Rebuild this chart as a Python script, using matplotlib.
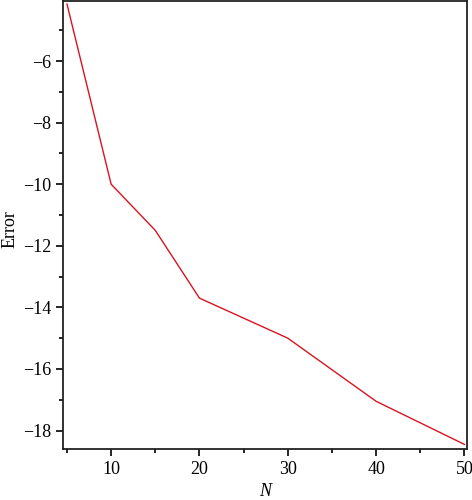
import matplotlib
matplotlib.use("Agg")
import matplotlib.pyplot as plt
from matplotlib.ticker import MultipleLocator

N = [5, 10, 15, 20, 30, 40, 50]
error = [-4.15, -10.0, -11.5, -13.7, -15.0, -17.05, -18.45]

plt.rcParams['font.family'] = ['Liberation Serif', 'DejaVu Serif']

fig = plt.figure(figsize=(4.72, 5.0), dpi=100)
ax = fig.add_axes([0.1335, 0.102, 0.856, 0.896])
ax.plot(N, error, color='#d8141e', lw=1.0)
ax.set_xlim(4.55, 50.3)
ax.set_ylim(-18.6, -4.05)
ax.xaxis.set_major_locator(MultipleLocator(10))
ax.xaxis.set_minor_locator(MultipleLocator(5))
ax.yaxis.set_major_locator(MultipleLocator(2))
ax.yaxis.set_minor_locator(MultipleLocator(1))
ax.tick_params(which='major', length=5, width=1.2, labelsize=13, direction='out')
ax.tick_params(which='minor', length=3, width=1.2, direction='out')
for s in ax.spines.values():
    s.set_linewidth(1.3)
    s.set_color('#222222')
ax.set_xlabel('N', fontsize=13, fontstyle='italic', labelpad=4)
ax.set_ylabel('Error', fontsize=13, labelpad=4)
ax.yaxis.set_label_coords(-0.11, 0.49)
fig.savefig('out.png', dpi=100)
